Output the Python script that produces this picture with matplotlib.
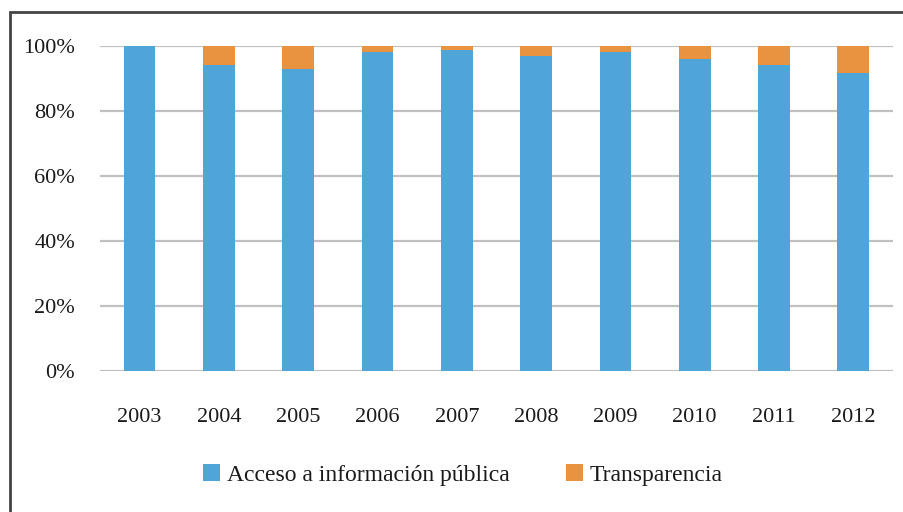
import matplotlib.pyplot as plt
from matplotlib.patches import Rectangle
from matplotlib.ticker import PercentFormatter

years = ["2003", "2004", "2005", "2006", "2007", "2008", "2009", "2010", "2011", "2012"]
acceso = [100.0, 94.3, 92.9, 98.0, 98.7, 96.8, 98.1, 96.1, 94.3, 91.7]
transparencia = [0.0, 5.7, 7.1, 2.0, 1.3, 3.2, 1.9, 3.9, 5.7, 8.3]

blue = "#4fa5d8"
orange = "#e9923f"

plt.rcParams['font.family'] = ['Liberation Serif', 'DejaVu Serif']

fig = plt.figure(figsize=(9.04, 5.12), dpi=100)
ax = fig.add_axes([0.1106, 0.2754, 0.8772, 0.6348])

x = range(len(years))
ax.bar(x, acceso, width=0.4, color=blue, label="Acceso a información pública", zorder=3)
ax.bar(x, transparencia, width=0.4, bottom=acceso, color=orange, label="Transparencia", zorder=3)

ax.set_xlim(-0.5, len(years) - 0.5)
ax.set_ylim(0, 100)
ax.set_yticks([0, 20, 40, 60, 80, 100])
ax.yaxis.set_major_formatter(PercentFormatter(decimals=0))
ax.set_xticks(list(x))
ax.set_xticklabels(years)
ax.tick_params(axis='both', length=0, labelsize=16, colors="#1a1a1a")
ax.tick_params(axis='y', pad=18)
ax.tick_params(axis='x', pad=27)
ax.grid(axis='y', color="#c0c0c0", linewidth=1.6, zorder=0)
for s in ax.spines.values():
    s.set_visible(False)

ax.legend(loc='center', bbox_to_anchor=(0.458, -0.32), ncol=2, frameon=False,
          fontsize=17, handlelength=0.7, handleheight=0.7, handletextpad=0.3,
          columnspacing=2.4, labelcolor="#1a1a1a")

# outer border of the chart box
fig.patches.append(Rectangle((10 / 904, -0.05), 1.0, 1 - 12 / 512 + 0.05,
                             transform=fig.transFigure, fill=False,
                             edgecolor="#444444", linewidth=2.0))

fig.savefig("out.png", dpi=100)
